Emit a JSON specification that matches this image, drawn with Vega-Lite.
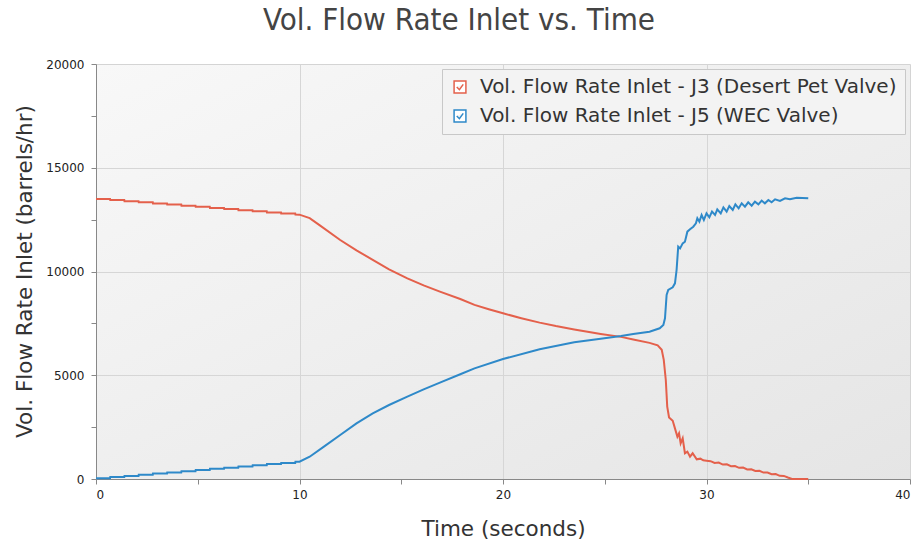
{
  "$schema": "https://vega.github.io/schema/vega-lite/v6.json",
  "width": 814,
  "height": 415,
  "autosize": {"type": "none"},
  "padding": {"left": 96, "top": 64, "right": 7, "bottom": 63},
  "background": "#ffffff",
  "title": {
    "text": "Vol. Flow Rate Inlet vs. Time",
    "font": "DejaVu Sans Condensed",
    "fontSize": 31,
    "fontWeight": "normal",
    "color": "#444444",
    "anchor": "middle",
    "frame": "group",
    "baseline": "alphabetic",
    "offset": -3,
    "dx": -44
  },
  "config": {
    "view": {
      "stroke": "#d4d4d4",
      "strokeWidth": 1,
      "fill": {"gradient": "linear", "x1": 0, "y1": 0, "x2": 1, "y2": 1, "stops": [{"offset": 0, "color": "#f8f8f8"}, {"offset": 1, "color": "#e5e5e5"}]}
    },
    "axis": {
      "labelFont": "DejaVu Sans",
      "labelFontSize": 12,
      "labelColor": "#222222",
      "titleFont": "DejaVu Sans",
      "titleFontSize": 21.5,
      "titleFontWeight": "normal",
      "titleColor": "#333333",
      "domainColor": "#888888",
      "tickColor": "#888888",
      "tickSize": 5,
      "gridColor": "#d6d6d6",
      "gridWidth": 1
    }
  },
  "data": {
    "values": [
      {"s": "J3", "t": 0, "v": 13494},
      {"s": "J3", "t": 0.69, "v": 13494}, {"s": "J3", "t": 0.7, "v": 13440},
      {"s": "J3", "t": 1.39, "v": 13440}, {"s": "J3", "t": 1.4, "v": 13386},
      {"s": "J3", "t": 2.09, "v": 13386}, {"s": "J3", "t": 2.1, "v": 13332},
      {"s": "J3", "t": 2.79, "v": 13332}, {"s": "J3", "t": 2.8, "v": 13278},
      {"s": "J3", "t": 3.49, "v": 13278}, {"s": "J3", "t": 3.5, "v": 13224},
      {"s": "J3", "t": 4.19, "v": 13224}, {"s": "J3", "t": 4.2, "v": 13170},
      {"s": "J3", "t": 4.89, "v": 13170}, {"s": "J3", "t": 4.9, "v": 13116},
      {"s": "J3", "t": 5.59, "v": 13116}, {"s": "J3", "t": 5.6, "v": 13062},
      {"s": "J3", "t": 6.29, "v": 13062}, {"s": "J3", "t": 6.3, "v": 13008},
      {"s": "J3", "t": 6.99, "v": 13008}, {"s": "J3", "t": 7.0, "v": 12954},
      {"s": "J3", "t": 7.69, "v": 12954}, {"s": "J3", "t": 7.7, "v": 12900},
      {"s": "J3", "t": 8.39, "v": 12900}, {"s": "J3", "t": 8.4, "v": 12846},
      {"s": "J3", "t": 9.09, "v": 12846}, {"s": "J3", "t": 9.1, "v": 12792},
      {"s": "J3", "t": 9.79, "v": 12792}, {"s": "J3", "t": 9.8, "v": 12745},
      {"s": "J3", "t": 10.0, "v": 12740},
      {"s": "J3", "t": 10.5, "v": 12570},
      {"s": "J3", "t": 11.0, "v": 12224},
      {"s": "J3", "t": 12.0, "v": 11518},
      {"s": "J3", "t": 12.8, "v": 11020},
      {"s": "J3", "t": 13.6, "v": 10560},
      {"s": "J3", "t": 14.4, "v": 10100},
      {"s": "J3", "t": 15.3, "v": 9670},
      {"s": "J3", "t": 16.1, "v": 9330},
      {"s": "J3", "t": 16.9, "v": 9030},
      {"s": "J3", "t": 17.9, "v": 8675},
      {"s": "J3", "t": 18.6, "v": 8390},
      {"s": "J3", "t": 19.3, "v": 8180},
      {"s": "J3", "t": 20.0, "v": 7985},
      {"s": "J3", "t": 20.9, "v": 7750},
      {"s": "J3", "t": 21.8, "v": 7535},
      {"s": "J3", "t": 22.6, "v": 7370},
      {"s": "J3", "t": 23.5, "v": 7210},
      {"s": "J3", "t": 24.3, "v": 7070},
      {"s": "J3", "t": 24.8, "v": 6990},
      {"s": "J3", "t": 25.8, "v": 6850},
      {"s": "J3", "t": 26.4, "v": 6720},
      {"s": "J3", "t": 27.2, "v": 6560},
      {"s": "J3", "t": 27.6, "v": 6440},
      {"s": "J3", "t": 27.8, "v": 6230},
      {"s": "J3", "t": 27.9, "v": 5740},
      {"s": "J3", "t": 28.0, "v": 4770},
      {"s": "J3", "t": 28.07, "v": 3490},
      {"s": "J3", "t": 28.16, "v": 2970},
      {"s": "J3", "t": 28.34, "v": 2810},
      {"s": "J3", "t": 28.45, "v": 2440},
      {"s": "J3", "t": 28.57, "v": 2040},
      {"s": "J3", "t": 28.65, "v": 2200},
      {"s": "J3", "t": 28.73, "v": 1720},
      {"s": "J3", "t": 28.83, "v": 1960},
      {"s": "J3", "t": 28.94, "v": 1240},
      {"s": "J3", "t": 29.06, "v": 1320},
      {"s": "J3", "t": 29.19, "v": 1075},
      {"s": "J3", "t": 29.32, "v": 1240},
      {"s": "J3", "t": 29.52, "v": 950},
      {"s": "J3", "t": 29.7, "v": 980},
      {"s": "J3", "t": 29.84, "v": 900},
      {"s": "J3", "t": 30.0, "v": 883},
      {"s": "J3", "t": 30.2, "v": 860},
      {"s": "J3", "t": 30.4, "v": 775},
      {"s": "J3", "t": 30.6, "v": 790},
      {"s": "J3", "t": 30.8, "v": 697},
      {"s": "J3", "t": 31.0, "v": 705},
      {"s": "J3", "t": 31.2, "v": 620},
      {"s": "J3", "t": 31.4, "v": 628},
      {"s": "J3", "t": 31.6, "v": 540},
      {"s": "J3", "t": 31.8, "v": 550},
      {"s": "J3", "t": 32.0, "v": 463},
      {"s": "J3", "t": 32.2, "v": 470},
      {"s": "J3", "t": 32.4, "v": 385},
      {"s": "J3", "t": 32.6, "v": 393},
      {"s": "J3", "t": 32.8, "v": 308},
      {"s": "J3", "t": 33.0, "v": 315},
      {"s": "J3", "t": 33.2, "v": 230},
      {"s": "J3", "t": 33.4, "v": 236},
      {"s": "J3", "t": 33.6, "v": 152},
      {"s": "J3", "t": 33.8, "v": 150},
      {"s": "J3", "t": 34.0, "v": 70},
      {"s": "J3", "t": 34.2, "v": 0},
      {"s": "J3", "t": 35.0, "v": 0},

      {"s": "J5", "t": 0, "v": 34},
      {"s": "J5", "t": 0.69, "v": 34}, {"s": "J5", "t": 0.7, "v": 91},
      {"s": "J5", "t": 1.39, "v": 91}, {"s": "J5", "t": 1.4, "v": 148},
      {"s": "J5", "t": 2.09, "v": 148}, {"s": "J5", "t": 2.1, "v": 205},
      {"s": "J5", "t": 2.79, "v": 205}, {"s": "J5", "t": 2.8, "v": 262},
      {"s": "J5", "t": 3.49, "v": 262}, {"s": "J5", "t": 3.5, "v": 319},
      {"s": "J5", "t": 4.19, "v": 319}, {"s": "J5", "t": 4.2, "v": 376},
      {"s": "J5", "t": 4.89, "v": 376}, {"s": "J5", "t": 4.9, "v": 433},
      {"s": "J5", "t": 5.59, "v": 433}, {"s": "J5", "t": 5.6, "v": 490},
      {"s": "J5", "t": 6.29, "v": 490}, {"s": "J5", "t": 6.3, "v": 547},
      {"s": "J5", "t": 6.99, "v": 547}, {"s": "J5", "t": 7.0, "v": 604},
      {"s": "J5", "t": 7.69, "v": 604}, {"s": "J5", "t": 7.7, "v": 661},
      {"s": "J5", "t": 8.39, "v": 661}, {"s": "J5", "t": 8.4, "v": 718},
      {"s": "J5", "t": 9.09, "v": 718}, {"s": "J5", "t": 9.1, "v": 775},
      {"s": "J5", "t": 9.79, "v": 775}, {"s": "J5", "t": 9.8, "v": 830},
      {"s": "J5", "t": 10.0, "v": 832},
      {"s": "J5", "t": 10.5, "v": 1075},
      {"s": "J5", "t": 11.2, "v": 1557},
      {"s": "J5", "t": 12.0, "v": 2120},
      {"s": "J5", "t": 12.8, "v": 2683},
      {"s": "J5", "t": 13.6, "v": 3165},
      {"s": "J5", "t": 14.4, "v": 3566},
      {"s": "J5", "t": 15.3, "v": 3966},
      {"s": "J5", "t": 16.1, "v": 4320},
      {"s": "J5", "t": 16.9, "v": 4641},
      {"s": "J5", "t": 17.9, "v": 5046},
      {"s": "J5", "t": 18.6, "v": 5333},
      {"s": "J5", "t": 20.0, "v": 5783},
      {"s": "J5", "t": 21.8, "v": 6250},
      {"s": "J5", "t": 23.5, "v": 6586},
      {"s": "J5", "t": 24.8, "v": 6760},
      {"s": "J5", "t": 25.8, "v": 6892},
      {"s": "J5", "t": 26.4, "v": 6988},
      {"s": "J5", "t": 27.2, "v": 7100},
      {"s": "J5", "t": 27.7, "v": 7262},
      {"s": "J5", "t": 27.88, "v": 7422},
      {"s": "J5", "t": 27.96, "v": 7743},
      {"s": "J5", "t": 28.04, "v": 8867},
      {"s": "J5", "t": 28.12, "v": 9108},
      {"s": "J5", "t": 28.34, "v": 9237},
      {"s": "J5", "t": 28.45, "v": 9430},
      {"s": "J5", "t": 28.53, "v": 10072},
      {"s": "J5", "t": 28.61, "v": 11196},
      {"s": "J5", "t": 28.7, "v": 11116},
      {"s": "J5", "t": 28.83, "v": 11357},
      {"s": "J5", "t": 28.94, "v": 11437},
      {"s": "J5", "t": 29.06, "v": 11920},
      {"s": "J5", "t": 29.19, "v": 12032},
      {"s": "J5", "t": 29.35, "v": 12160},
      {"s": "J5", "t": 29.48, "v": 12321},
      {"s": "J5", "t": 29.55, "v": 12562},
      {"s": "J5", "t": 29.65, "v": 12401},
      {"s": "J5", "t": 29.76, "v": 12723},
      {"s": "J5", "t": 29.87, "v": 12482},
      {"s": "J5", "t": 30.0, "v": 12803},
      {"s": "J5", "t": 30.14, "v": 12610},
      {"s": "J5", "t": 30.27, "v": 12884},
      {"s": "J5", "t": 30.42, "v": 12723},
      {"s": "J5", "t": 30.53, "v": 12996},
      {"s": "J5", "t": 30.7, "v": 12803},
      {"s": "J5", "t": 30.83, "v": 13092},
      {"s": "J5", "t": 30.99, "v": 12884},
      {"s": "J5", "t": 31.12, "v": 13157},
      {"s": "J5", "t": 31.29, "v": 12964},
      {"s": "J5", "t": 31.42, "v": 13238},
      {"s": "J5", "t": 31.58, "v": 13045},
      {"s": "J5", "t": 31.73, "v": 13286},
      {"s": "J5", "t": 31.89, "v": 13124},
      {"s": "J5", "t": 32.05, "v": 13335},
      {"s": "J5", "t": 32.22, "v": 13173},
      {"s": "J5", "t": 32.38, "v": 13365},
      {"s": "J5", "t": 32.55, "v": 13238},
      {"s": "J5", "t": 32.71, "v": 13414},
      {"s": "J5", "t": 32.87, "v": 13286},
      {"s": "J5", "t": 33.04, "v": 13446},
      {"s": "J5", "t": 33.2, "v": 13335},
      {"s": "J5", "t": 33.37, "v": 13478},
      {"s": "J5", "t": 33.61, "v": 13398},
      {"s": "J5", "t": 33.86, "v": 13526},
      {"s": "J5", "t": 34.1, "v": 13478},
      {"s": "J5", "t": 34.43, "v": 13558},
      {"s": "J5", "t": 35.0, "v": 13526}
    ]
  },
  "mark": {"type": "line", "strokeWidth": 2, "interpolate": "linear"},
  "encoding": {
    "x": {
      "field": "t",
      "type": "quantitative",
      "scale": {"domain": [0, 40], "nice": false, "zero": false},
      "axis": {
        "title": "Time (seconds)",
        "values": [0, 5, 10, 15, 20, 25, 30, 35, 40],
        "labelExpr": "datum.value % 10 === 0 ? format(datum.value, 'd') : ''",
        "gridOpacity": {"condition": {"test": "datum.value % 10 === 0 && datum.value > 0 && datum.value < 40", "value": 1}, "value": 0},
        "labelPadding": 5,
        "titleX": 407,
        "titleY": 56,
        "titleBaseline": "alphabetic"
      }
    },
    "y": {
      "field": "v",
      "type": "quantitative",
      "scale": {"domain": [0, 20000], "nice": false},
      "axis": {
        "title": "Vol. Flow Rate Inlet (barrels/hr)",
        "values": [0, 2500, 5000, 7500, 10000, 12500, 15000, 17500, 20000],
        "labelExpr": "datum.value % 5000 === 0 ? format(datum.value, 'd') : ''",
        "gridOpacity": {"condition": {"test": "datum.value % 5000 === 0 && datum.value > 0 && datum.value < 20000", "value": 1}, "value": 0},
        "labelPadding": 7,
        "titleX": -65,
        "titleY": 207,
        "titleBaseline": "alphabetic",
        "titleAngle": -90,
        "titleAlign": "center"
      }
    },
    "color": {
      "field": "s",
      "type": "nominal",
      "scale": {"domain": ["J3", "J5"], "range": ["#e4604b", "#2e89c9"]},
      "legend": {
        "title": null,
        "orient": "top-right",
        "offset": 5,
        "fillColor": "#f3f3f3",
        "strokeColor": "#c8c8c8",
        "padding": 8,
        "labelFont": "DejaVu Sans",
        "labelFontSize": 20,
        "labelColor": "#333333",
        "labelLimit": 600,
        "labelOffset": 10,
        "rowPadding": 9,
        "symbolType": "M-1,-1H1V1H-1Z M-0.55,0L-0.1,0.45L0.55,-0.45",
        "symbolSize": 140,
        "symbolStrokeWidth": 1.5,
        "symbolFillColor": "#ffffff",
        "labelExpr": "datum.label === 'J3' ? 'Vol. Flow Rate Inlet - J3 (Desert Pet Valve)' : 'Vol. Flow Rate Inlet - J5 (WEC Valve)'"
      }
    }
  }
}
